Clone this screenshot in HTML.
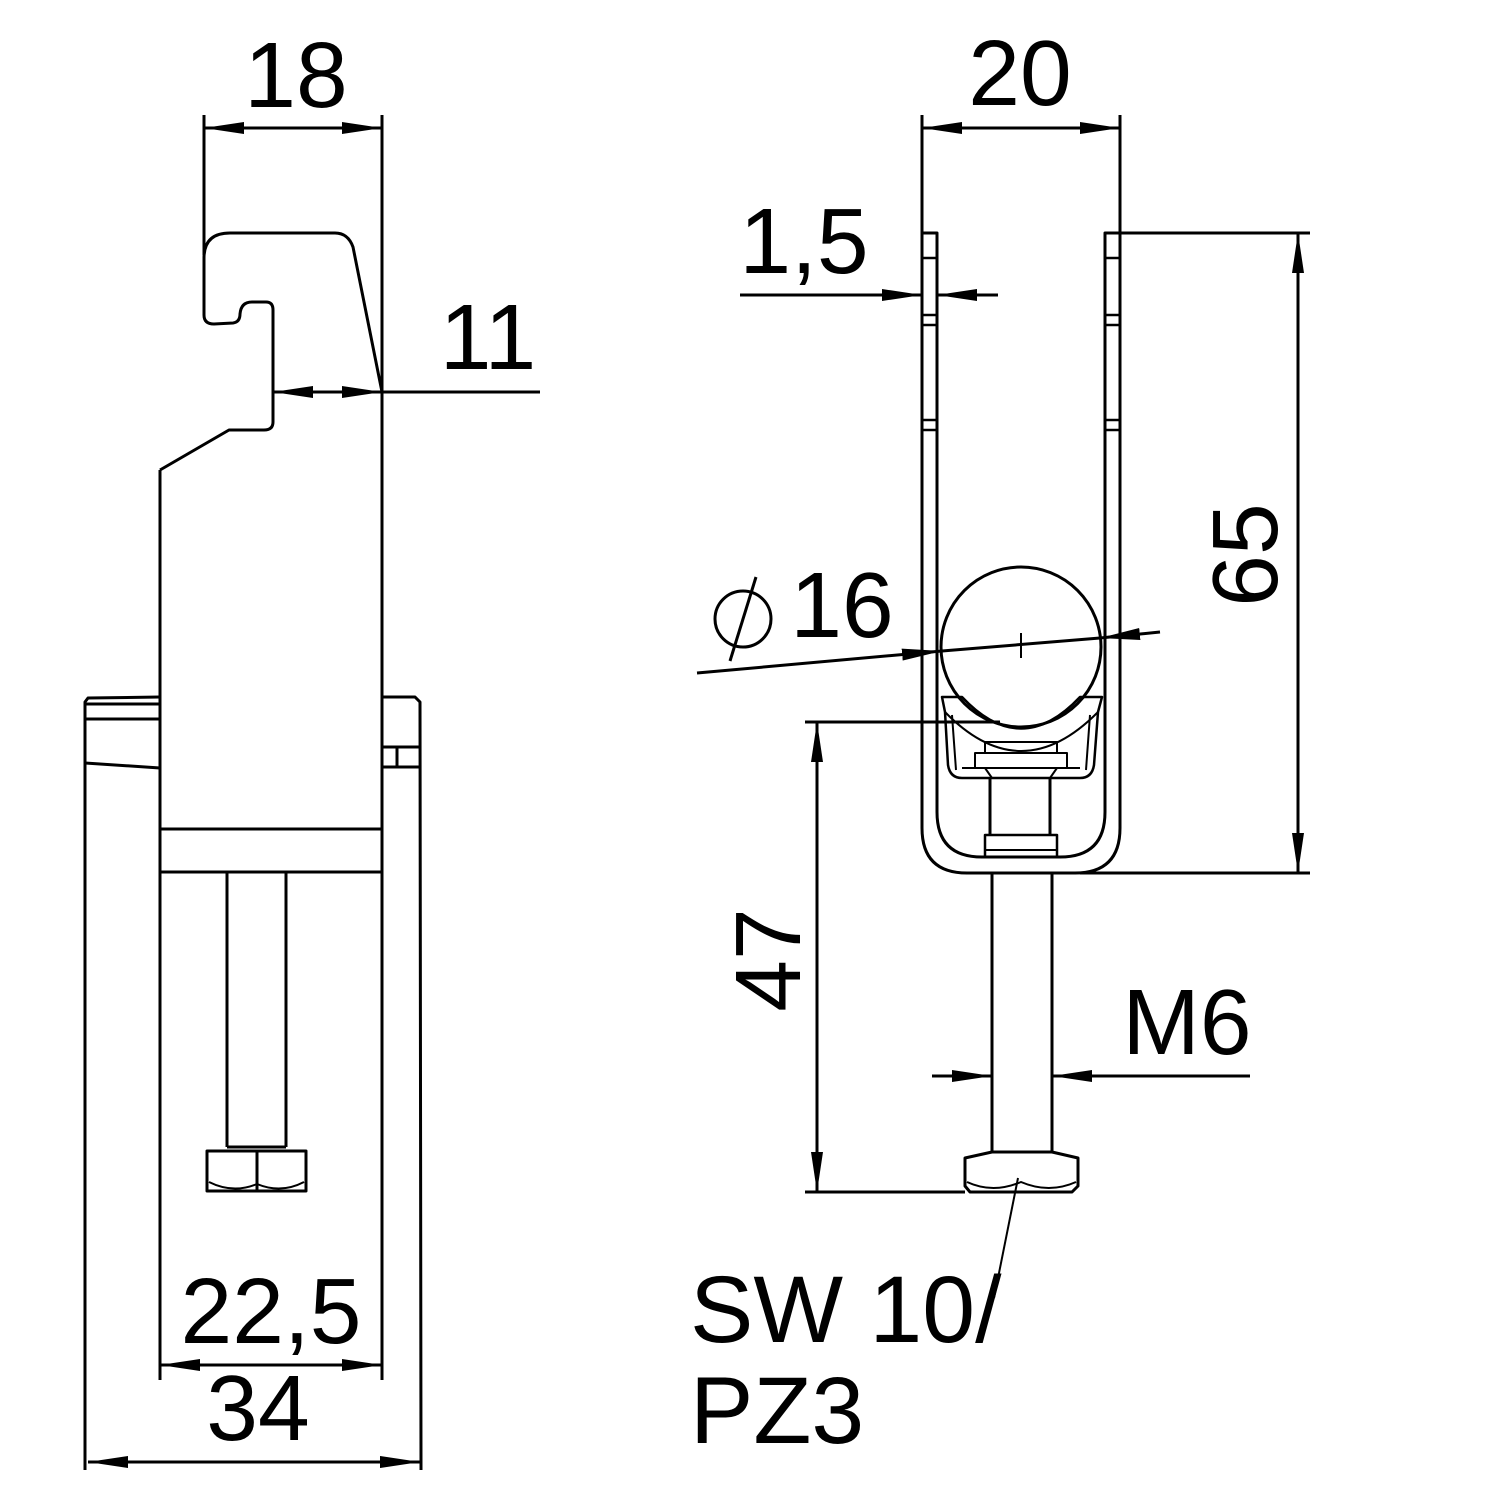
<!DOCTYPE html>
<html><head><meta charset="utf-8"><style>html,body{margin:0;padding:0;background:#fff}svg{display:block}</style></head><body>
<svg width="1500" height="1500" viewBox="0 0 1500 1500" xmlns="http://www.w3.org/2000/svg">
<defs>
<marker id="a" viewBox="0 0 40 12" refX="40" refY="6" markerWidth="40" markerHeight="12" markerUnits="userSpaceOnUse" orient="auto-start-reverse"><path d="M0,0 L40,6 L0,12 Z" fill="#000"/></marker>
</defs>
<g fill="none" stroke="#000" stroke-width="3" stroke-linejoin="round">
<!-- LEFT VIEW -->
<line x1="204" y1="115" x2="204" y2="255"/>
<line x1="382" y1="115" x2="382" y2="1380"/>
<line x1="160" y1="470" x2="160" y2="1380"/>
<path d="M204,258 Q204,233 230,233 L335,233 Q348,233 353,247 L382,392"/>
<path d="M204,258 L204,315 Q204,324 214,324 L233,323 Q240,322 240,314 Q241,302 252,302 L266,302 Q273,302 273,310 L273,422 Q273,430 264,430 L229,430 L160,470"/>
<path d="M160,697 L88,698 L85,702 L85,1470"/>
<line x1="85" y1="704" x2="160" y2="704"/>
<line x1="85" y1="719" x2="160" y2="719"/>
<line x1="85" y1="763" x2="160" y2="768"/>
<path d="M382,697 L415,697 L420,702 L421,1470"/>
<line x1="382" y1="747" x2="420" y2="747"/>
<line x1="397" y1="747" x2="397" y2="767"/>
<line x1="382" y1="767" x2="420" y2="767"/>
<line x1="160" y1="829" x2="382" y2="829"/>
<line x1="160" y1="872" x2="382" y2="872"/>
<line x1="227" y1="873" x2="227" y2="1147"/>
<line x1="286" y1="873" x2="286" y2="1147"/>
<line x1="227" y1="1147" x2="286" y2="1147"/>
<rect x="207" y="1151" width="99" height="40"/>
<line x1="257" y1="1151" x2="257" y2="1191"/>
<path d="M209,1182 Q233,1194 257,1184 Q281,1194 304,1182" stroke-width="2"/>
<line x1="204" y1="128" x2="382" y2="128" marker-start="url(#a)" marker-end="url(#a)"/>
<line x1="273" y1="392" x2="540" y2="392" marker-start="url(#a)"/>
<line x1="330" y1="392" x2="382" y2="392" marker-end="url(#a)"/>
<line x1="160" y1="1365" x2="382" y2="1365" marker-start="url(#a)" marker-end="url(#a)"/>
<line x1="88" y1="1462" x2="420" y2="1462" marker-start="url(#a)" marker-end="url(#a)"/>

<!-- RIGHT VIEW -->
<line x1="922" y1="115" x2="922" y2="233"/>
<line x1="1120" y1="115" x2="1120" y2="233"/>
<path d="M922,233 L937,233 L937,812 Q937,857 982,857 L1060,857 Q1105,857 1105,812 L1105,233 L1120,233 L1120,828 Q1120,873 1075,873 L967,873 Q922,873 922,828 Z"/>
<g stroke-width="2.5">
<line x1="922" y1="258" x2="937" y2="258"/><line x1="1105" y1="258" x2="1120" y2="258"/>
<line x1="922" y1="315" x2="937" y2="315"/><line x1="1105" y1="315" x2="1120" y2="315"/>
<line x1="922" y1="325" x2="937" y2="325"/><line x1="1105" y1="325" x2="1120" y2="325"/>
<line x1="922" y1="420" x2="937" y2="420"/><line x1="1105" y1="420" x2="1120" y2="420"/>
<line x1="922" y1="430" x2="937" y2="430"/><line x1="1105" y1="430" x2="1120" y2="430"/>
</g>
<circle cx="1021" cy="647" r="80"/>
<line x1="1021" y1="633" x2="1021" y2="658" stroke-width="2"/>
<path d="M942,697 L962,697 Q1021,760 1080,697 L1102,697 L1098,712 L1094,765 Q1092,778 1080,778 L962,778 Q950,778 948,765 L945,712 Z" stroke-width="2.5"/>
<path d="M945,712 Q1021,790 1098,712" stroke-width="2"/>
<path d="M952,715 L956,770 M1090,715 L1086,770" stroke-width="2"/>
<rect x="985" y="742" width="72" height="11" stroke-width="2"/>
<rect x="975" y="753" width="92" height="15" stroke-width="2"/>
<line x1="962" y1="768" x2="1080" y2="768" stroke-width="2"/>
<path d="M985,768 L992,778 M1057,768 L1050,778" stroke-width="2"/>
<line x1="990" y1="778" x2="990" y2="835"/>
<line x1="1050" y1="778" x2="1050" y2="835"/>
<rect x="985" y="835" width="72" height="22" stroke-width="2.5"/>
<line x1="985" y1="850" x2="1057" y2="850" stroke-width="2"/>
<line x1="992" y1="873" x2="992" y2="1152"/>
<line x1="1052" y1="873" x2="1052" y2="1152"/>
<path d="M992,1152 L965,1158 L965,1186 L970,1192 L1072,1192 L1078,1186 L1078,1158 L1052,1152 Z"/>
<line x1="992" y1="1152" x2="1052" y2="1152"/>
<path d="M967,1182 Q993,1194 1021,1182 Q1049,1194 1076,1182" stroke-width="2"/>
<line x1="922" y1="128" x2="1120" y2="128" marker-start="url(#a)" marker-end="url(#a)"/>
<line x1="740" y1="295" x2="922" y2="295" marker-end="url(#a)"/>
<line x1="998" y1="295" x2="937" y2="295" marker-end="url(#a)"/>
<line x1="1120" y1="233" x2="1310" y2="233"/>
<line x1="1080" y1="873" x2="1310" y2="873"/>
<line x1="1298" y1="233" x2="1298" y2="873" marker-start="url(#a)" marker-end="url(#a)"/>
<line x1="805" y1="722" x2="1000" y2="722"/>
<line x1="805" y1="1192" x2="965" y2="1192"/>
<line x1="817" y1="722" x2="817" y2="1192" marker-start="url(#a)" marker-end="url(#a)"/>
<line x1="932" y1="1076" x2="992" y2="1076" marker-end="url(#a)"/>
<line x1="1250" y1="1076" x2="1052" y2="1076" marker-end="url(#a)"/>
<line x1="697" y1="673" x2="942" y2="651" marker-end="url(#a)"/>
<line x1="1160" y1="632" x2="1100" y2="638" marker-end="url(#a)"/>
<line x1="942" y1="651" x2="1100" y2="638"/>
<circle cx="743" cy="619" r="28"/>
<line x1="756" y1="577" x2="730" y2="661"/>
<line x1="1018" y1="1178" x2="994" y2="1298" stroke-width="2"/>
</g>
<g font-family="Liberation Sans, sans-serif" font-size="93" fill="#000">
<text x="296" y="107" text-anchor="middle">18</text>
<text x="488" y="369" text-anchor="middle">11</text>
<text x="271" y="1343" text-anchor="middle">22,5</text>
<text x="258" y="1440" text-anchor="middle">34</text>
<text x="1020" y="105" text-anchor="middle">20</text>
<text x="804" y="273" text-anchor="middle">1,5</text>
<text x="842" y="637" text-anchor="middle">16</text>
<text x="1187" y="1054" text-anchor="middle">M6</text>
<text transform="translate(1277,555) rotate(-90)" text-anchor="middle">65</text>
<text transform="translate(800,960) rotate(-90)" text-anchor="middle">47</text>
<text x="690" y="1342" font-size="95">SW 10/</text>
<text x="690" y="1443" font-size="95">PZ3</text>
</g>
</svg>
</body></html>
